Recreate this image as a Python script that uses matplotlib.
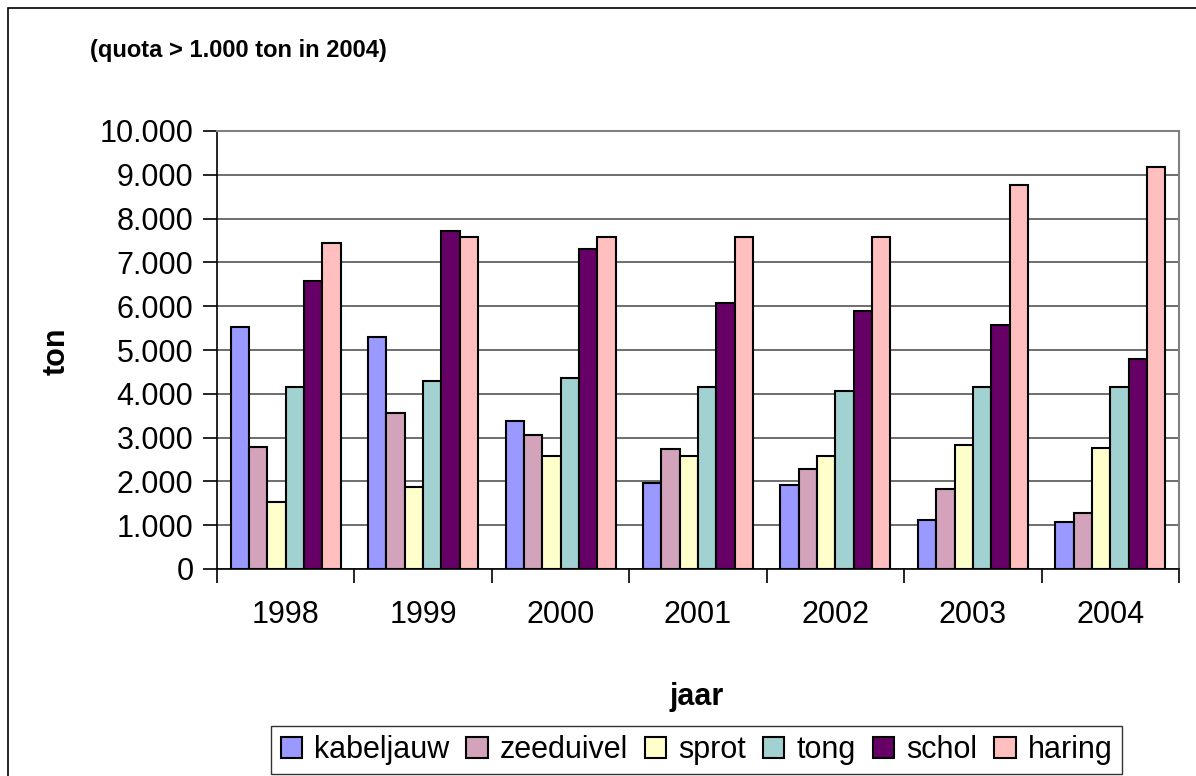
import matplotlib
matplotlib.use("Agg")
import matplotlib.pyplot as plt
import matplotlib.patches as mpatches
from matplotlib.ticker import FuncFormatter, MultipleLocator
import numpy as np

plt.rcParams['font.family'] = ['Liberation Sans', 'DejaVu Sans']

years = ["1998", "1999", "2000", "2001", "2002", "2003", "2004"]
series_names = ["kabeljauw", "zeeduivel", "sprot", "tong", "schol", "haring"]
kabeljauw = [5520, 5290, 3370, 1960, 1910, 1130, 1080]
zeeduivel = [2790, 3570, 3060, 2740, 2280, 1830, 1270]
sprot = [1540, 1870, 2590, 2590, 2590, 2820, 2770]
tong = [4160, 4290, 4350, 4160, 4060, 4160, 4160]
schol = [6580, 7720, 7310, 6070, 5890, 5570, 4790]
haring = [7450, 7590, 7590, 7590, 7590, 8770, 9180]
values = [kabeljauw, zeeduivel, sprot, tong, schol, haring]
colors = ["#9999FF", "#D3A3BB", "#FFFFCC", "#A2D1D1", "#660066", "#FFBFBF"]

W, H = 1196, 776
fig = plt.figure(figsize=(W / 100, H / 100), dpi=100)
ax = fig.add_axes([217 / W, 1 - 569 / H, 962 / W, 438 / H])

x = np.arange(len(years))
n = len(series_names)
bw = 0.8 / n
for j, (name, vals, c) in enumerate(zip(series_names, values, colors)):
    ax.bar(x + (j - (n - 1) / 2) * bw, vals, width=bw, color=c,
           edgecolor="black", linewidth=1.5, label=name, zorder=3)

ax.set_xlim(-0.5, len(years) - 0.5)
ax.set_ylim(0, 10000)
ax.yaxis.set_major_locator(MultipleLocator(1000))
ax.yaxis.set_major_formatter(FuncFormatter(lambda v, p: f"{int(v):,}".replace(",", ".")))
ax.grid(axis="y", color="#555555", linewidth=1.2, zorder=0)
ax.set_axisbelow(True)

ax.set_xticks(x)
ax.set_xticklabels(years)
ax.set_xticks(np.arange(-0.5, len(years)), minor=True)
ax.tick_params(axis="x", which="major", length=0, pad=22, labelsize=22)
ax.tick_params(axis="x", which="minor", length=10, width=1.2, direction="out")
ax.tick_params(axis="y", length=10, width=1.2, direction="out", pad=7, labelsize=22)

for s in ["top", "right"]:
    ax.spines[s].set_color("#808080")
    ax.spines[s].set_linewidth(1.5)
for s in ["left", "bottom"]:
    ax.spines[s].set_color("black")
    ax.spines[s].set_linewidth(1.2)

fig.text(57 / W, 1 - 351 / H, "ton", rotation=90, fontsize=22, fontweight="bold",
         ha="center", va="center")
fig.text(697 / W, 1 - 697 / H, "jaar", fontsize=22, fontweight="bold",
         ha="center", va="center")
fig.text(90 / W, 1 - 50 / H, "(quota > 1.000 ton in 2004)", fontsize=17,
         fontweight="bold", ha="left", va="center")

handles, labels = ax.get_legend_handles_labels()
leg = fig.legend(handles, labels, loc="center", ncol=6,
                 bbox_to_anchor=(696.5 / W, 1 - 750 / H), fontsize=22,
                 frameon=True, fancybox=False, handlelength=0.7, handleheight=0.7,
                 handletextpad=0.4, columnspacing=0.55, borderpad=0.3,
                 borderaxespad=0)
leg.get_frame().set_edgecolor("black")
leg.get_frame().set_linewidth(1.0)

border = mpatches.Rectangle((8 / W, -0.1), 2.0, 1 - 8 / H + 0.1,
                            transform=fig.transFigure, fill=False,
                            edgecolor="black", linewidth=1.2)
fig.patches.append(border)

fig.savefig("out.png", dpi=100)
